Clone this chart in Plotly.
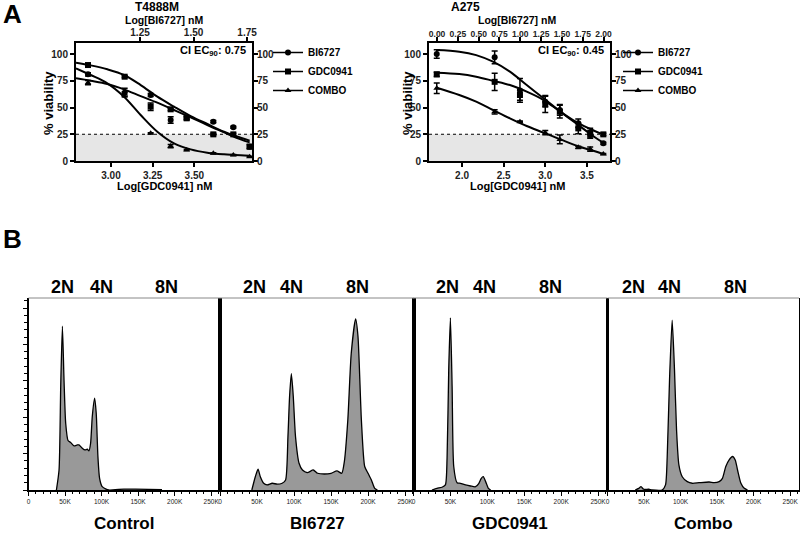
import plotly.graph_objects as go

# ---------------- Panel A data ----------------
series_names = ["BI6727", "GDC0941", "COMBO"]
series_symbols = ["circle", "square", "triangle-up"]

# T4888M (log GDC0941 nM on bottom axis)
t4888m_x = [2.862, 3.082, 3.238, 3.358, 3.454, 3.614, 3.734, 3.832]
t4888m_bi = [81.0, 63.9, 61.7, 38.3, 40.5, 36.8, 31.5, 13.4]
t4888m_bi_err = [1.5, 4.0, 1.5, 3.0, 1.5, 1.0, 1.0, 1.5]
t4888m_gdc = [89.7, 78.8, 50.8, 48.3, 39.9, 24.9, 24.9, 13.4]
t4888m_gdc_err = [1.0, 1.0, 3.5, 1.0, 1.5, 1.0, 1.0, 2.0]
t4888m_combo = [73.2, 62.6, 25.9, 14.0, 10.3, 7.2, 5.6, 4.0]
t4888m_combo_err = [2.0, 2.0, 0.5, 1.5, 0.5, 0.5, 0.5, 0.5]

t4888m_fit_x = [2.79, 2.878, 2.978, 3.078, 3.178, 3.278, 3.378, 3.478, 3.578, 3.678, 3.778, 3.832]
t4888m_fit_bi = [77.3, 75.0, 72.0, 67.0, 60.7, 54.5, 47.7, 40.8, 33.6, 26.8, 20.2, 17.4]
t4888m_fit_gdc = [91.9, 89.4, 85.7, 80.4, 71.0, 60.1, 50.8, 42.0, 34.6, 27.4, 21.8, 19.0]
t4888m_fit_combo = [86.6, 80.4, 72.6, 60.1, 43.0, 27.4, 16.5, 10.9, 7.8, 6.2, 5.3, 5.0]

# A275
a275_x = [1.696, 2.392, 2.696, 3.0, 3.175, 3.397, 3.540, 3.698]
a275_bi = [100.0, 96.9, 66.0, 55.5, 47.7, 35.2, 24.3, 16.5]
a275_bi_err = [4, 6, 11, 5, 5, 4, 3, 1]
a275_gdc = [81.0, 74.0, 61.7, 53.3, 46.1, 30.5, 26.5, 24.9]
a275_gdc_err = [2, 8, 5, 8, 6, 5, 4, 1]
a275_combo = [68.0, 46.0, 36.8, 26.5, 20.2, 12.8, 11.2, 6.5]
a275_combo_err = [5, 2, 0.5, 2, 4, 1, 2, 0.5]

a275_fit_x = [1.696, 1.967, 2.17, 2.372, 2.575, 2.777, 2.98, 3.182, 3.385, 3.587, 3.696]
a275_fit_bi = [103.7, 102.2, 99.0, 92.8, 83.5, 71.0, 58.6, 46.1, 34.3, 22.7, 17.1]
a275_fit_gdc = [82.6, 81.3, 78.8, 75.0, 71.0, 64.8, 57.0, 46.1, 35.8, 28.3, 24.9]
a275_fit_combo = [68.5, 61.7, 55.5, 47.7, 39.9, 32.7, 26.5, 20.2, 14.0, 9.3, 6.5]

# ---------------- Panel B data (DNA content, K) ----------------
panel_titles = ["Control", "BI6727", "GDC0941", "Combo"]

control_x = [38.2, 41.8, 44.1, 46.4, 48.6, 50.9, 54.1, 57.7, 62.3, 66.8, 69.1, 73.6, 77.3, 80.5,
             82.7, 85.0, 87.3, 90.5, 92.7, 95.0, 97.3, 100.9, 105.5, 110.0, 130.5, 146.4, 182.7]
control_y = [0, 11, 57, 90, 60.6, 36.7, 27.2, 26.1, 24.2, 24.8, 24.8, 23, 22, 22.4,
             21.5, 25.7, 40.4, 50.5, 42.2, 18.4, 6.4, 1.8, 0.6, 0, 0.5, 0.5, 0.2]

bi_x = [43, 47.7, 51.4, 54.5, 59, 63.6, 70.5, 77.3, 84, 88.6, 91.8, 94, 96.4, 99, 102, 106.8,
        111.4, 118, 126, 131.8, 141, 150, 158, 164.5, 168, 172.7, 177.3, 183.2, 186.4, 191,
        195.5, 200, 204.5, 209, 212.7]
bi_y = [0, 7.3, 11.4, 7.3, 3.7, 2.8, 3.7, 3.2, 3.7, 5.5, 29.4, 51.4, 63.9, 51.4, 29.4, 14.7,
        11, 9.5, 11, 9.2, 8.8, 9.2, 10.5, 9.2, 15.6, 38.6, 75, 94, 84.5, 38.6,
        12.9, 9.2, 5.5, 0.9, 0]

gdc_x = [25, 31.8, 38.6, 43.2, 45.5, 47.7, 50, 52.3, 54.5, 59, 63.6, 70.5, 77.3, 84, 88.6,
         91.8, 94.5, 97.7, 101.4, 104.5]
gdc_y = [0, 0.9, 1.5, 2.8, 18, 66, 94.6, 57, 12.9, 4, 3.7, 2.8, 2.2, 1.8, 3.7,
         6.4, 7.3, 4.6, 0.9, 0]

combo_x = [38, 42.7, 45.9, 49.5, 56.4, 61, 74.8, 79.4, 81.7, 84.9, 88.5, 91.7, 94.5, 97.7,
           102.3, 109.2, 116, 125.2, 139, 145.9, 152.8, 157.3, 161.9, 166.5, 171.1, 174.8,
           178, 182.6, 187.2, 191.7]
combo_y = [0, 0.9, 1.8, 0.4, 0.4, 0, 0, 2.8, 18, 60.6, 93.3, 66, 33, 13.8,
           7.3, 4.6, 3.7, 4, 4.4, 4, 4.6, 6.4, 12.9, 16.5, 18.4, 16.5,
           11, 3.7, 0.9, 0]

hist_x = [control_x, bi_x, gdc_x, combo_x]
hist_y = [control_y, bi_y, gdc_y, combo_y]
hist_ticks = [0, 50, 100, 150, 200, 250]
hist_ticktext = ["0", "50K", "100K", "150K", "200K", "250K"]

W, H = 800, 533
FONT = "Liberation Sans, Arial, sans-serif"


def px(x):
    return x / W


def py(y):
    return 1 - y / H


fig = go.Figure()

# ---------------- Panel A ----------------
a_panels = [
    dict(xb="x", xt="x2", yl="y", yr="y2", legend="legend", title="T4888M", ci="0.75",
         x=t4888m_x, vals=[t4888m_bi, t4888m_gdc, t4888m_combo],
         errs=[t4888m_bi_err, t4888m_gdc_err, t4888m_combo_err],
         fx=t4888m_fit_x, fits=[t4888m_fit_bi, t4888m_fit_gdc, t4888m_fit_combo]),
    dict(xb="x3", xt="x4", yl="y3", yr="y4", legend="legend2", title="A275", ci="0.45",
         x=a275_x, vals=[a275_bi, a275_gdc, a275_combo],
         errs=[a275_bi_err, a275_gdc_err, a275_combo_err],
         fx=a275_fit_x, fits=[a275_fit_bi, a275_fit_gdc, a275_fit_combo]),
]

for p in a_panels:
    for name, sym, v, e, f in zip(series_names, series_symbols, p["vals"], p["errs"], p["fits"]):
        fig.add_trace(go.Scatter(x=p["fx"], y=f, mode="lines", line=dict(color="black", width=2),
                                 line_shape="spline", showlegend=False, hoverinfo="skip",
                                 xaxis=p["xb"], yaxis=p["yl"]))
        fig.add_trace(go.Scatter(x=p["x"], y=v, mode="markers",
                                 marker=dict(symbol=sym, size=6, color="black"),
                                 error_y=dict(type="data", array=e, color="black", thickness=1.5, width=3),
                                 showlegend=False, xaxis=p["xb"], yaxis=p["yl"]))
    for name, sym in zip(series_names, series_symbols):
        fig.add_trace(go.Scatter(x=[None], y=[None], mode="lines+markers", name=name,
                                 marker=dict(symbol=sym, size=6, color="black"),
                                 line=dict(color="black", width=1.5),
                                 legend=p["legend"], xaxis=p["xt"], yaxis=p["yr"]))

# ---------------- Panel B ----------------
b_axes = [("x5", "y5"), ("x6", "y6"), ("x7", "y7"), ("x8", "y8")]
for (xa, ya), hx, hy in zip(b_axes, hist_x, hist_y):
    fig.add_trace(go.Scatter(x=hx, y=hy, mode="lines", fill="tozeroy", fillcolor="#999999",
                             line=dict(color="black", width=1.3, shape="spline", smoothing=0.6),
                             showlegend=False, xaxis=xa, yaxis=ya))

# ---------------- Layout ----------------
tick_font = dict(family=FONT, size=10, color="#222", weight="bold")
axis_common = dict(showline=True, linecolor="black", linewidth=2, ticks="outside",
                   ticklen=4, tickwidth=1.5, tickcolor="black", showgrid=False,
                   zeroline=False, tickfont=tick_font, automargin=False, tickangle=0)

y_dom_a = [py(161), py(43)]
yrange_a = [0, 110.3]
yticks = [0, 25, 50, 75, 100]

layout = dict(
    width=W, height=H, margin=dict(l=0, r=0, t=0, b=0),
    paper_bgcolor="white", plot_bgcolor="rgba(0,0,0,0)",
    font=dict(family=FONT, color="black"),
    # T4888M
    xaxis=dict(axis_common, domain=[px(76), px(252)], range=[2.79, 3.846], anchor="y",
               tickvals=[3.0, 3.25, 3.5], tickformat=".2f"),
    xaxis2=dict(axis_common, range=[0.951, 1.773], overlaying="x", side="top", anchor="y",
                tickvals=[1.25, 1.5, 1.75], tickformat=".2f", ticklabelstandoff=-3),
    yaxis=dict(axis_common, domain=y_dom_a, range=yrange_a, anchor="x", tickvals=yticks),
    yaxis2=dict(axis_common, range=yrange_a, overlaying="y", side="right", anchor="x",
                tickvals=yticks, ticklabelstandoff=-3),
    # A275
    xaxis3=dict(axis_common, domain=[px(429), px(610)], range=[1.603, 3.778], anchor="y3",
                tickvals=[2.0, 2.5, 3.0, 3.5], tickformat=".1f"),
    xaxis4=dict(axis_common, range=[-0.097, 2.078], overlaying="x3", side="top", anchor="y3",
                dtick=0.25, tick0=0, tickformat=".2f", ticklabelstandoff=-3,
                tickfont=dict(family=FONT, size=8.5, color="#222", weight="bold")),
    yaxis3=dict(axis_common, domain=y_dom_a, range=yrange_a, anchor="x3", tickvals=yticks),
    yaxis4=dict(axis_common, range=yrange_a, overlaying="y3", side="right", anchor="x3",
                tickvals=yticks, ticklabelstandoff=-3),
    legend=dict(x=px(268), y=py(38), xanchor="left", yanchor="top", bgcolor="rgba(0,0,0,0)",
                font=dict(family=FONT, size=10, weight="bold"), itemwidth=30),
    legend2=dict(x=px(618), y=py(38), xanchor="left", yanchor="top", bgcolor="rgba(0,0,0,0)",
                 font=dict(family=FONT, size=10, weight="bold"), itemwidth=30),
)

b_domains = [[28.5, 220], [220, 414], [413.5, 607], [607.5, 799]]
b_labels_k = [[47, 100, 189], [46, 97, 186], [45.5, 96, 185], [35, 85.5, 175.6]]
hist_tick_font = dict(family=FONT, size=6.5, color="#222")
for i, (xa, ya) in enumerate(b_axes):
    n = xa[1:]
    layout["xaxis" + n] = dict(domain=[px(b_domains[i][0]), px(b_domains[i][1])], range=[0, 262.1],
                               anchor=ya, showline=True, linecolor="black", linewidth=1.5,
                               ticks="outside", ticklen=4, tickwidth=1, tickcolor="black",
                               tickvals=hist_ticks, ticktext=hist_ticktext, tickfont=hist_tick_font,
                               tickangle=0,
                               minor=dict(dtick=10, tick0=0, ticks="outside", ticklen=2.5,
                                          tickcolor="black"),
                               showgrid=False, zeroline=False, automargin=False)
    ycfg = dict(domain=[py(490), py(298)], range=[0, 105.5], anchor=xa, showline=True,
                linecolor="black", linewidth=1.5, mirror=True, showgrid=False, zeroline=False,
                showticklabels=False, automargin=False)
    if i == 0:
        ycfg.update(ticks="outside", ticklen=4, tickwidth=1, tickcolor="black", dtick=20, tick0=0,
                    minor=dict(dtick=4, tick0=0, ticks="outside", ticklen=2.5, tickcolor="black"))
    else:
        ycfg.update(ticks="")
    layout["yaxis" + n] = ycfg

fig.update_layout(**layout)

# shaded region and dotted 25% line in panel A
for xa, ya in [("x", "y"), ("x3", "y3")]:
    fig.add_shape(type="rect", xref=xa + " domain", yref=ya, x0=0, x1=1, y0=0, y1=25,
                  fillcolor="#e6e6e6", line=dict(width=0), layer="below")
    fig.add_shape(type="line", xref=xa + " domain", yref=ya, x0=0, x1=1, y0=25, y1=25,
                  line=dict(color="black", width=1, dash="dot"), layer="below")

# grey top border of histogram panels
for xa, ya in b_axes:
    fig.add_shape(type="line", xref=xa + " domain", yref=ya + " domain", x0=0, x1=1, y0=1, y1=1,
                  line=dict(color="#888888", width=1))

ann = []
ann.append(dict(text="<b>A</b>", x=px(12), y=py(14), font=dict(size=26)))
ann.append(dict(text="<b>B</b>", x=px(12), y=py(239), font=dict(size=26)))
# (title x, axis title x, y-title x, right edge of plot)
a_text_pos = [(157, 164, 48, 252), (465, 517, 407, 610)]
for p, (tx, cx, vx, right) in zip(a_panels, a_text_pos):
    ann.append(dict(text="<b>" + p["title"] + "</b>", x=px(tx), y=py(7), font=dict(size=12)))
    ann.append(dict(text="<b>Log[BI6727] nM</b>", x=px(cx), y=py(20.5), font=dict(size=10.5)))
    ann.append(dict(text="<b>Log[GDC0941] nM</b>", x=px(cx), y=py(186), font=dict(size=11)))
    ann.append(dict(text="<b>% viability</b>", x=px(vx), y=py(103), textangle=-90,
                    font=dict(size=13)))
    ann.append(dict(text="<b>CI EC<sub>90</sub>: " + p["ci"] + "</b>", x=px(right - 4), y=py(51),
                    xanchor="right", font=dict(size=11)))

for i, (xa, ya) in enumerate(b_axes):
    for lab, k in zip(["2N", "4N", "8N"], b_labels_k[i]):
        ann.append(dict(text="<b>" + lab + "</b>", xref=xa, yref="paper", x=k, y=py(287),
                        font=dict(size=18)))
    ann.append(dict(text="<b>" + panel_titles[i] + "</b>", xref=xa + " domain", yref="paper",
                    x=0.5, y=py(523), font=dict(size=17)))

for a in ann:
    a.setdefault("xref", "paper")
    a.setdefault("yref", "paper")
    a.setdefault("showarrow", False)
    a.setdefault("xanchor", "center")
    a.setdefault("yanchor", "middle")
    fig.add_annotation(**a)

# the page's default 8px body margin would push the 800x533 figure out of the window
fig.write_html("out.html", config={"displayModeBar": False},
               post_script="document.body.style.margin='0px';")
